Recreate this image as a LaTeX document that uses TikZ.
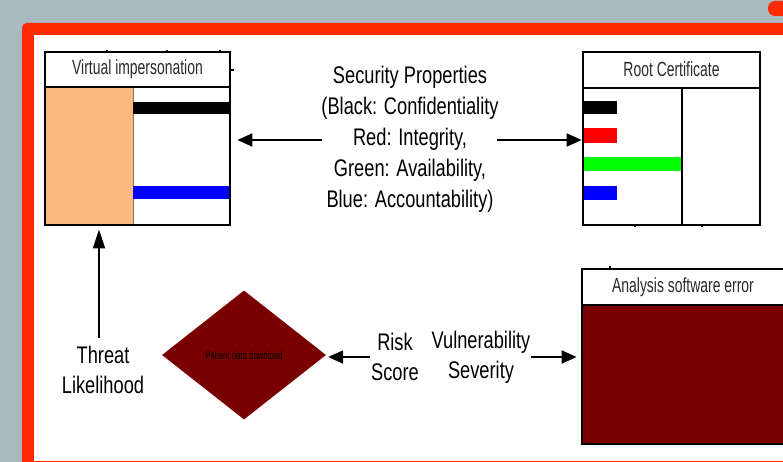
\documentclass[tikz,border=0pt]{standalone}
\usepackage{fontspec}
\setmainfont{Liberation Sans}
\newfontfamily\narrowsans[FakeStretch=0.76]{Liberation Sans}
\newfontfamily\titlesans[FakeStretch=0.68]{Liberation Sans}
\usetikzlibrary{arrows.meta,shapes.geometric}
\definecolor{bggray}{HTML}{A9BABF}
\definecolor{framered}{HTML}{FF2A00}
\definecolor{peach}{HTML}{FCB97F}
\definecolor{darkmaroon}{HTML}{7A0000}
\definecolor{titlegray}{HTML}{2A2A2A}

\begin{document}
\begin{tikzpicture}[x=1pt,y=-1pt,
  lbl/.style={font=\narrowsans\fontsize{24}{31}\selectfont, align=center, inner sep=0pt},
  lbltwo/.style={font=\narrowsans\fontsize{24}{30}\selectfont, align=center, inner sep=0pt},
  boxtitle/.style={font=\titlesans\fontsize{20.5}{22}\selectfont, text=titlegray, inner sep=0pt},
  boxframe/.style={draw=black, line width=2.8pt, inner sep=0pt},
  sep/.style={line width=2.8pt},
  tick/.style={line width=1.6pt},
  arr/.style={line width=2pt, -{Triangle[length=15pt,width=13pt]}},
]
\useasboundingbox (0,0) rectangle (783,462);
\begin{scope}
\clip (0,0) rectangle (783,462);
% background and slide frame
\fill[bggray] (0,0) rectangle (783,462);
\fill[framered, rounded corners=5pt] (22,23) rectangle (820,490);
\fill[white] (34,35) rectangle (820,461);
\fill[framered, rounded corners=7pt] (768,1) rectangle (800,16);

% ---- Virtual impersonation ----
\fill[peach] (45,87) rectangle (133,225);
\draw[line width=0.6pt, peach!60!black] (133,87) -- (133,225);
\fill[black] (133,102) rectangle (230,114);
\fill[blue] (133,186) rectangle (230,199);
\node[boxframe, minimum width=185pt, minimum height=173pt] (vi) at (137.5,138.5) {};
\draw[sep] (vi.west |- 0,87) -- (vi.east |- 0,87);
\node[boxtitle] (vititle) at (137.5,69) {Virtual impersonation};
\foreach \tx in {107,167,220} \draw[tick] (\tx,50) -- (\tx,52);
\draw[tick] (230,70) -- (234,70);

% ---- Root Certificate ----
\fill[black] (583,101) rectangle (617,114);
\fill[red] (583,128) rectangle (617,143);
\fill[green] (583,157) rectangle (682,171);
\fill[blue] (583,186) rectangle (617,200);
\node[boxframe, minimum width=177pt, minimum height=173pt] (rc) at (671.5,138.5) {};
\draw[sep] (rc.west |- 0,88) -- (rc.east |- 0,88);
\draw[line width=2pt] (682,88) -- (682,225);
\node[boxtitle] (rctitle) at (671.5,69) {Root Certificate};
\foreach \tx in {635,702} \draw[tick] (\tx,225) -- (\tx,227);

% ---- Analysis software error ----
\fill[darkmaroon] (582,305) rectangle (785,444);
\node[boxframe, minimum width=203pt, minimum height=175pt] (ase) at (683.5,356.5) {};
\draw[sep] (ase.west |- 0,305) -- (ase.east |- 0,305);
\node[boxtitle] (asetitle) at (683,287) {Analysis software error};
\draw[tick] (610,266) -- (610,268);

% ---- Patient data download ----
\node[diamond, fill=darkmaroon, minimum width=164pt, minimum height=129pt, inner sep=0pt,
      font=\titlesans\fontsize{11.5}{12}\selectfont] (pdd) at (244,355)
      {\raisebox{-5pt}{Patient data download}};

% ---- labels ----
\node[lbl] (secprops) at (410,139.5)
  {Security Properties\\(Black: Confidentiality\\Red: Integrity,\\Green: Availability,\\Blue: Accountability)};
\node[lbltwo] (threat) at (103,370) {Threat\\Likelihood};
\node[lbltwo] (risk) at (395,357) {Risk\\Score};
\node[lbltwo] (vuln) at (481,357) {Vulnerability\\Severity};

% ---- connectors ----
\coordinate (secL) at (322,140);
\coordinate (secR) at (497,140);
\coordinate (thr) at (99,338);
\coordinate (rsk) at (370,357);
\coordinate (vul) at (531,357);
\draw[arr, shorten >=6pt] (secL) -- (vi.east |- secL);
\draw[arr] (secR) -- (rc.west |- secR);
\draw[line width=2pt, -{Triangle[length=19pt,width=12pt]}, shorten >=3pt] (thr) -- (thr |- vi.south);
\draw[arr, shorten >=2pt] (rsk) -- (pdd.east |- rsk);
\draw[arr, shorten >=4pt] (vul) -- (ase.west |- vul);
\end{scope}
\end{tikzpicture}
\end{document}
